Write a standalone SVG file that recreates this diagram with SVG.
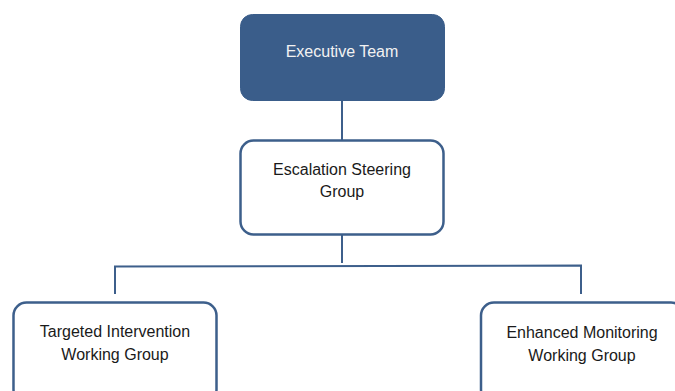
<svg xmlns="http://www.w3.org/2000/svg" width="675" height="391" viewBox="0 0 675 391">
<style>
.box{fill:#ffffff;stroke:#3d5f8b;stroke-width:2.5}
.top{fill:#3a5d8a;stroke:#3a5d8a;stroke-width:1}
.conn{fill:none;stroke:#3d5f8b;stroke-width:2}
.t{font-family:"Liberation Sans",Arial,sans-serif;font-size:16px;text-anchor:middle;fill:#1a1a1a}
.tw{fill:#f2f2f2}
</style>
<rect width="675" height="391" fill="#ffffff"/>
<g id="connectors">
<line class="conn" x1="342" y1="101" x2="342" y2="140"/>
<line class="conn" x1="342" y1="235" x2="342" y2="263"/>
<polyline class="conn" points="115,294 115,266.5 581,265.5 581,294"/>
</g>
<g id="executive-team">
<rect class="top" x="240.5" y="14.5" width="204" height="86" rx="12"/>
<text class="t tw" x="342" y="57">Executive Team</text>
</g>
<g id="escalation-steering-group">
<rect class="box" x="240.5" y="140.5" width="203" height="94" rx="13"/>
<text class="t" x="342" y="175">Escalation Steering</text>
<text class="t" x="342" y="197">Group</text>
</g>
<g id="targeted-intervention">
<rect class="box" x="13.5" y="302.5" width="203" height="100" rx="13"/>
<text class="t" x="115" y="337">Targeted Intervention</text>
<text class="t" x="115" y="360">Working Group</text>
</g>
<g id="enhanced-monitoring">
<rect class="box" x="481" y="302.5" width="203" height="100" rx="13"/>
<text class="t" x="582" y="338">Enhanced Monitoring</text>
<text class="t" x="582" y="361">Working Group</text>
</g>
</svg>
